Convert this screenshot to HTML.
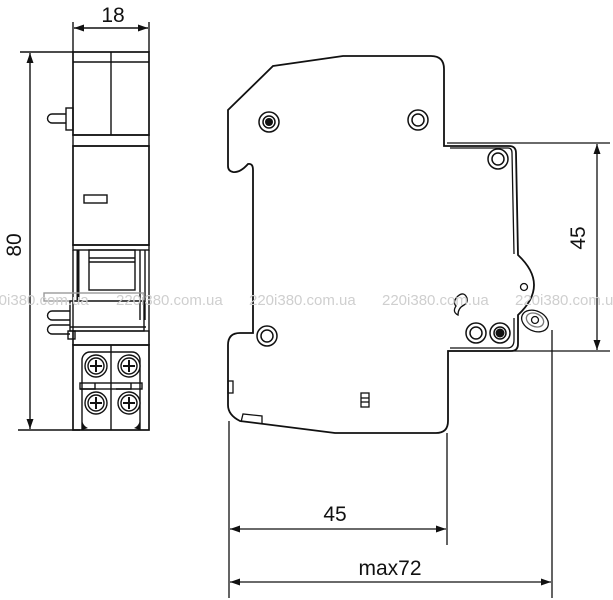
<!DOCTYPE html>
<html><head><meta charset="utf-8"><style>
html,body{margin:0;padding:0;background:#fff;}
svg{display:block;}
text{font-family:"Liberation Sans",Arial,sans-serif;}
</style></head><body>
<svg width="613" height="600" viewBox="0 0 613 600" xmlns="http://www.w3.org/2000/svg">
<defs>
<marker id="a" viewBox="0 0 10 10" refX="10" refY="5" markerWidth="10" markerHeight="10" orient="auto-start-reverse" markerUnits="userSpaceOnUse"><path d="M0,1.5 L10,5 L0,8.5z" fill="#111"/></marker>
</defs>
<g stroke="#111" fill="none" stroke-width="1.4">
<line x1="73" y1="22" x2="73" y2="52"/><line x1="149" y1="22" x2="149" y2="52"/>
<line x1="74" y1="28" x2="148" y2="28" marker-start="url(#a)" marker-end="url(#a)"/>
<line x1="20" y1="52" x2="73" y2="52"/><line x1="18" y1="430" x2="80" y2="430"/>
<line x1="30" y1="53" x2="30" y2="429" marker-start="url(#a)" marker-end="url(#a)"/>
<rect x="73" y="52" width="76" height="83" stroke-width="1.7"/>
<line x1="73" y1="62" x2="149" y2="62"/>
<line x1="111" y1="52" x2="111" y2="135"/>
<rect x="66" y="108" width="7" height="22"/>
<path d="M66,114 H52 a4.5,4.5 0 0 0 0,9 H66"/>
<rect x="73" y="135" width="76" height="11"/>
<rect x="73" y="146" width="76" height="99" stroke-width="1.7"/>
<rect x="84" y="195" width="23" height="8"/>
<rect x="73" y="245" width="76" height="5"/>
<line x1="73" y1="250" x2="73" y2="345"/><line x1="149" y1="250" x2="149" y2="345"/>
<line x1="78" y1="250" x2="78" y2="300" stroke-width="3"/>
<rect x="89" y="250" width="46" height="40"/>
<line x1="89" y1="258" x2="135" y2="258"/><line x1="89" y1="262" x2="135" y2="262"/>
<line x1="140" y1="250" x2="140" y2="320"/><line x1="145" y1="250" x2="145" y2="320"/>
<rect x="44" y="293" width="100" height="8" stroke="#999"/>
<rect x="70" y="301" width="74" height="30"/>
<line x1="70" y1="327" x2="146" y2="327"/>
<path d="M70,311 H52 a4.5,4.5 0 0 0 0,9 H70"/>
<path d="M70,325 H52 a4.5,4.5 0 0 0 0,9 H70"/>
<rect x="68" y="331" width="7" height="8"/>
<rect x="73" y="331" width="76" height="14"/>
<rect x="73" y="345" width="76" height="85" stroke-width="1.7"/>
<line x1="111" y1="345" x2="111" y2="430"/>
<path d="M82,430 V360 a8,8 0 0 1 8,-8 H132 a8,8 0 0 1 8,8 V430"/>
<rect x="80" y="383" width="62" height="6"/>
<path d="M80,389 h15 v-6 M116,389 h15 v-6"/>
</g>
<g stroke="#111" stroke-width="1.4" fill="#fff">
<circle cx="96" cy="366" r="11"/><circle cx="96" cy="366" r="8"/>
<circle cx="129" cy="366" r="11"/><circle cx="129" cy="366" r="8"/>
<circle cx="96" cy="403" r="11"/><circle cx="96" cy="403" r="8"/>
<circle cx="129" cy="403" r="11"/><circle cx="129" cy="403" r="8"/>
<path d="M96,360 v12 M90,366 h12 M129,360 v12 M123,366 h12 M96,397 v12 M90,403 h12 M129,397 v12 M123,403 h12" stroke-width="2"/>
</g>
<path d="M82,430 v-12 a10,10 0 0 0 6,10z M140,430 v-12 a10,10 0 0 1 -6,10z" fill="#111"/>
<text x="113" y="22" font-size="21" text-anchor="middle" fill="#111">18</text>
<text transform="translate(21,245) rotate(-90)" font-size="21" text-anchor="middle" fill="#111">80</text>

<g stroke="#111" fill="none" stroke-width="1.8">
<path d="M273,66 L343,56 L431,56 Q444,56 444,69 L444,146 L509,146 Q516,146 516,153 L518,255 Q550,285 518,315 L518,344 Q518,351 511,351 L448,351 L448,421 Q448,433 436,433 L335,433 L240,421 Q228,415 228,405 L228,345 Q228,333 240,333 L253,333 L253,170 Q253,163 248,164 Q240,173 233,172 Q228,171 228,166 L228,110 Z"/>
</g>
<g stroke="#111" fill="none" stroke-width="1.3">
<path d="M447,143 L610,143"/>
<path d="M450,148 L508,148 Q512,148 512,153 L514,254"/>
<path d="M514,318 L514,340 Q514,348 507,348 L450,348"/>
<line x1="448" y1="351" x2="610" y2="351"/>
<line x1="597" y1="144" x2="597" y2="350" marker-start="url(#a)" marker-end="url(#a)"/>
<line x1="229" y1="421" x2="229" y2="598"/>
<line x1="447" y1="433" x2="447" y2="545"/>
<line x1="552" y1="330" x2="552" y2="598"/>
<line x1="230" y1="529" x2="446" y2="529" marker-start="url(#a)" marker-end="url(#a)"/>
<line x1="230" y1="582" x2="551" y2="582" marker-start="url(#a)" marker-end="url(#a)"/>
<rect x="228" y="381" width="5" height="12"/>
<path d="M241,422 L243,414 L262,416 L262,424"/>
<rect x="361" y="393" width="8" height="14"/>
<line x1="361" y1="398" x2="369" y2="398"/><line x1="361" y1="402" x2="369" y2="402"/>
<circle cx="524" cy="287" r="3.5"/>
<ellipse cx="535" cy="321" rx="14" ry="10" transform="rotate(25 535 321)"/>
<ellipse cx="535" cy="320" rx="9" ry="6.5" transform="rotate(25 535 320)" stroke="#777"/>
<circle cx="535" cy="320" r="3.5"/>
<path d="M458,296 q6,-5 9,2 q1,5 -3,7 q-6,3 -6,10 q-6,-3 -2,-9 q-4,-4 2,-10z"/>
</g>
<g stroke="#111" stroke-width="1.5" fill="#fff">
<circle cx="269" cy="122" r="10"/><circle cx="269" cy="122" r="6"/>
<circle cx="418" cy="120" r="10"/><circle cx="418" cy="120" r="6"/>
<circle cx="498" cy="159" r="10"/><circle cx="498" cy="159" r="6"/>
<circle cx="267" cy="336" r="10"/><circle cx="267" cy="336" r="6"/>
<circle cx="476" cy="333" r="10"/><circle cx="476" cy="333" r="6"/>
<circle cx="500" cy="333" r="10"/><circle cx="500" cy="333" r="6"/>
</g>
<circle cx="269" cy="122" r="4" fill="#111"/>
<circle cx="500" cy="333" r="4.5" fill="#111"/>
<text x="335" y="521" font-size="21" text-anchor="middle" fill="#111">45</text>
<text x="390" y="575" font-size="21" text-anchor="middle" fill="#111">max72</text>
<text transform="translate(585,238) rotate(-90)" font-size="21" text-anchor="middle" fill="#111">45</text>
<g font-size="15" fill="#cfcfcf">
<text x="-18" y="305">220i380.com.ua</text>
<text x="116" y="305">220i380.com.ua</text>
<text x="249" y="305">220i380.com.ua</text>
<text x="382" y="305">220i380.com.ua</text>
<text x="515" y="305">220i380.com.ua</text>
</g>
</svg>
</body></html>
